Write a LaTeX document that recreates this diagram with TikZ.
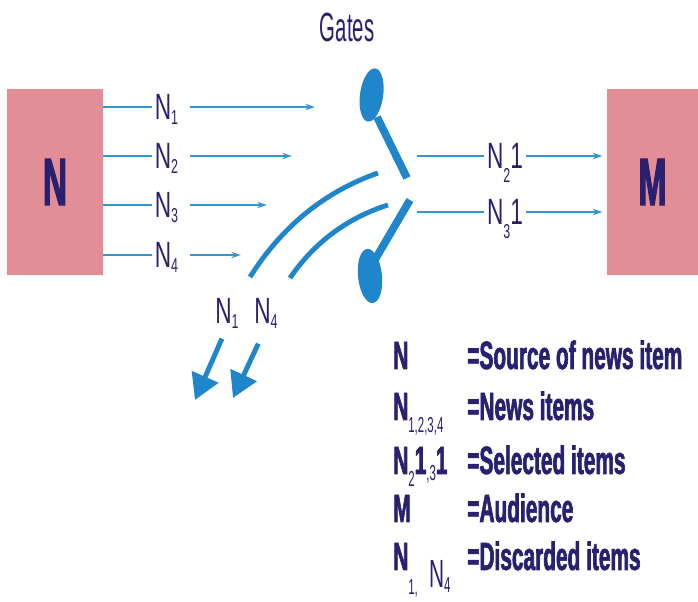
\documentclass[tikz,border=0pt]{standalone}
\usepackage{fontspec}
\setmainfont[FakeStretch=0.62, BoldFeatures={FakeBold=1.2}]{Liberation Sans}
\newfontfamily\tallfont[FakeStretch=0.5, BoldFeatures={FakeBold=1.5}]{Liberation Sans}
\newfontfamily\keyfont[FakeStretch=0.53, BoldFeatures={FakeBold=1.6}]{Liberation Sans}
\usepackage{graphicx}
\usepackage{xcolor}
\usepackage{tikz}
\usetikzlibrary{arrows.meta, positioning}

\definecolor{ink}{RGB}{42,32,112}
\definecolor{boxpink}{RGB}{227,142,151}
\definecolor{gateblue}{RGB}{31,134,203}
\definecolor{flowblue}{RGB}{50,150,208}

% small lowered index
\newcommand\low[2][-0.25ex]{\raisebox{#1}{\scalebox{0.55}{#2}}}

\tikzset{
  block/.style={fill=boxpink, minimum height=4.65cm, inner sep=0pt, text=ink,
    font=\tallfont\bfseries\fontsize{48}{48}\selectfont},
  item/.style={text=ink, inner sep=2pt, text height=18.5pt, text depth=0pt,
    font=\fontsize{26}{26}\selectfont},
  feed/.style={flowblue, line width=1.2pt},
  flow/.style={feed, -{Stealth[length=7pt,width=4.5pt]}},
  key/.style={text=ink, anchor=base west, inner sep=0pt,
    font=\keyfont\bfseries\fontsize{28}{28}\selectfont},
  gate/.style={gateblue, line width=5.5pt},
  chute/.style={gateblue, line width=3.5pt},
  drop/.style={gateblue, line width=3.5pt, -{Triangle[length=18pt,width=20pt]}},
}

\begin{document}
\begin{tikzpicture}
\useasboundingbox (0,0) rectangle (17.45,15.05);
\clip (0,0) rectangle (17.45,15.05);

% source and audience
\node[block, minimum width=2.4cm] (src) at (1.375,10.5) {N};
\node[block, minimum width=2.275cm] (aud) at (16.3125,10.5) {M};
\node[text=ink, font=\tallfont\fontsize{29}{29}\selectfont] (gates) at (8.675,14.375) {Gates};

% incoming news items
\node[item] (n1) at (4.16,12.375) {N\low{1}};
\node[item] (n2) at (4.16,11.15) {N\low{2}};
\node[item] (n3) at (4.16,9.925) {N\low{3}};
\node[item] (n4) at (4.16,8.675) {N\low{4}};
\coordinate (e1) at (7.875,12.375);
\coordinate (e2) at (7.3,11.15);
\coordinate (e3) at (6.675,9.925);
\coordinate (e4) at (6.025,8.675);
\draw[feed] (src.east |- n1) -- (n1);
\draw[feed] (src.east |- n2) -- (n2);
\draw[feed] (src.east |- n3) -- (n3);
\draw[feed] (src.east |- n4) -- (n4);
\draw[flow, shorten <=6pt] (n1) -- (e1);
\draw[flow, shorten <=6pt] (n2) -- (e2);
\draw[flow, shorten <=6pt] (n3) -- (e3);
\draw[flow, shorten <=6pt] (n4) -- (e4);

% the two gates
\fill[gateblue, rotate around={-8:(9.29,12.675)}] (9.29,12.675) ellipse (0.29 and 0.67);
\draw[gate] (9.425,12.125) -- (10.175,10.6);
\fill[gateblue, rotate around={6:(9.25,8.15)}] (9.25,8.15) ellipse (0.3 and 0.68);
\draw[gate] (10.25,10.05) -- (9.325,8.475);

% items let through
\coordinate (o2) at (10.425,11.15);
\coordinate (o3) at (10.425,9.75);
\node[item] (s2) at (12.625,11.15) {N\low[-0.7ex]{2}1};
\node[item] (s3) at (12.625,9.75) {N\low[-0.7ex]{3}1};
\draw[feed] (o2) -- (s2);
\draw[feed] (o3) -- (s3);
\draw[flow, shorten >=3pt] (s2) -- (aud.west |- s2);
\draw[flow, shorten >=3pt] (s3) -- (aud.west |- s3);

% items thrown out
\draw[chute] (6.25,8.125) .. controls (7.05,9.39) and (8.12,10.26) .. (9.45,10.725);
\draw[chute] (7.25,8.1) .. controls (7.86,8.99) and (8.68,9.60) .. (9.7,9.925);
\node[item] (d1) at (5.675,7.275) {N\low{1}};
\node[item] (d4) at (6.65,7.275) {N\low{4}};
\coordinate (t1) at (4.875,5.05);
\coordinate (t4) at (5.825,5.1);
\draw[drop, shorten <=9pt] (d1.south) -- (t1);
\draw[drop, shorten <=13pt] (d4.south) -- (t4);

% key
\node[key] (kN) at (9.825,5.825) {N};
\node[key] (kItems) at (9.825,4.55) {N\low[-0.6ex]{\mdseries 1,2,3,4}};
\node[key] (kSel) at (9.825,3.2) {N\low[-0.6ex]{\mdseries 2}1\low[-0.3ex]{\mdseries ,3}1};
\node[key] (kM) at (9.825,2.0) {M};
\node[key] (kOut) at (9.825,0.8) {N\low[-0.62em]{\mdseries 1,}\kern8pt\raisebox{-0.45em}{\mdseries N\low{4}}};
\node[key] (dN) at (11.675,5.825) {=Source of news item};
\node[key] (dItems) at (11.675,4.55) {=News items};
\node[key] (dSel) at (11.675,3.2) {=Selected items};
\node[key] (dM) at (11.675,2.0) {=Audience};
\node[key] (dOut) at (11.675,0.8) {=Discarded items};
\end{tikzpicture}
\end{document}
